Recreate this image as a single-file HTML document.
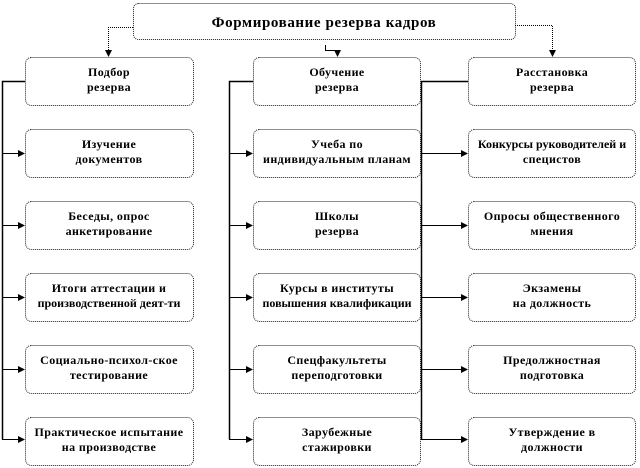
<!DOCTYPE html>
<html><head><meta charset="utf-8"><style>
html,body{margin:0;padding:0;background:#fff;width:640px;height:468px;overflow:hidden}
svg text{font-family:"Liberation Serif","DejaVu Serif",serif;font-weight:bold;font-size:12px;letter-spacing:0.4px;text-anchor:middle;fill:#000}
</style></head><body>
<svg width="640" height="468" viewBox="0 0 640 468" xmlns="http://www.w3.org/2000/svg">
<defs><marker id="a" markerWidth="7" markerHeight="7" refX="6" refY="3.5" orient="auto" markerUnits="userSpaceOnUse"><path d="M0,0 L7,3.5 L0,7 z" fill="#000"/></marker></defs>
<g fill="#fff" stroke="#222" stroke-width="1" stroke-dasharray="1,1">
<rect x="133.5" y="3.5" width="382" height="36" rx="5"/>
<rect x="25.5" y="57.5" width="168" height="48" rx="6"/>
<rect x="25.5" y="129.5" width="168" height="48" rx="6"/>
<rect x="25.5" y="201.5" width="168" height="48" rx="6"/>
<rect x="25.5" y="273.5" width="168" height="48" rx="6"/>
<rect x="25.5" y="345.5" width="168" height="48" rx="6"/>
<rect x="25.5" y="417.5" width="168" height="48" rx="6"/>
<rect x="253.5" y="57.5" width="167" height="48" rx="6"/>
<rect x="253.5" y="129.5" width="167" height="48" rx="6"/>
<rect x="253.5" y="201.5" width="167" height="48" rx="6"/>
<rect x="253.5" y="273.5" width="167" height="48" rx="6"/>
<rect x="253.5" y="345.5" width="167" height="48" rx="6"/>
<rect x="253.5" y="417.5" width="167" height="48" rx="6"/>
<rect x="468.5" y="57.5" width="167" height="48" rx="6"/>
<rect x="468.5" y="129.5" width="167" height="48" rx="6"/>
<rect x="468.5" y="201.5" width="167" height="48" rx="6"/>
<rect x="468.5" y="273.5" width="167" height="48" rx="6"/>
<rect x="468.5" y="345.5" width="167" height="48" rx="6"/>
<rect x="468.5" y="417.5" width="167" height="48" rx="6"/>
</g>
<g fill="none" stroke="#000" stroke-width="1">
<path d="M133,27.5 H108.5 V56" stroke-dasharray="1,1" marker-end="url(#a)"/>
<path d="M325.5,45 V50.5 H337.5 V56" marker-end="url(#a)"/>
<path d="M515,25.5 H552.5 V56" stroke-dasharray="1,1" marker-end="url(#a)"/>
<path d="M25,81.5 H2.5 V439.5" stroke-width="1.5"/>
<path d="M253,81.5 H229.5 V439.5" stroke-width="1.5"/>
<path d="M468,81.5 H421.5 V439.5" stroke-width="1.5"/>
<path d="M2,153.5 H24" marker-end="url(#a)"/><path d="M2,225.5 H24" marker-end="url(#a)"/><path d="M2,297.5 H24" marker-end="url(#a)"/><path d="M2,369.5 H24" marker-end="url(#a)"/><path d="M2,439.5 H24" marker-end="url(#a)"/>
<path d="M229,153.5 H252" marker-end="url(#a)"/><path d="M229,225.5 H252" marker-end="url(#a)"/><path d="M229,297.5 H252" marker-end="url(#a)"/><path d="M229,369.5 H252" marker-end="url(#a)"/><path d="M229,439.5 H252" marker-end="url(#a)"/>
<path d="M421,153.5 H467" marker-end="url(#a)"/><path d="M421,225.5 H467" marker-end="url(#a)"/><path d="M421,297.5 H467" marker-end="url(#a)"/><path d="M421,369.5 H467" marker-end="url(#a)"/><path d="M421,439.5 H467" marker-end="url(#a)"/>
</g>
<text x="324" y="27" style="font-size:15px;letter-spacing:0.6px">Формирование резерва кадров</text>
<text x="109" y="76">Подбор</text><text x="109" y="91">резерва</text>
<text x="109" y="148">Изучение</text><text x="109" y="163">документов</text>
<text x="109" y="220">Беседы,  опрос</text><text x="109" y="235">анкетирование</text>
<text x="109" y="292">Итоги аттестации  и</text><text x="109" y="307" style="letter-spacing:0">производственной деят-ти</text>
<text x="109" y="364">Социально-психол-ское</text><text x="109" y="379">тестирование</text>
<text x="109" y="436">Практическое  испытание</text><text x="109" y="451">на производстве</text>
<text x="337" y="76">Обучение</text><text x="337" y="91">резерва</text>
<text x="337" y="148">Учеба по</text><text x="337" y="163">индивидуальным  планам</text>
<text x="337" y="220">Школы</text><text x="337" y="235">резерва</text>
<text x="337" y="292">Курсы в институты</text><text x="337" y="307" style="letter-spacing:0">повышения квалификации</text>
<text x="337" y="364">Спецфакультеты</text><text x="337" y="379">переподготовки</text>
<text x="337" y="436">Зарубежные</text><text x="337" y="451">стажировки</text>
<text x="552" y="76">Расстановка</text><text x="552" y="91">резерва</text>
<text x="552" y="148" style="letter-spacing:0">Конкурсы руководителей и</text><text x="552" y="163">специстов</text>
<text x="552" y="220">Опросы общественного</text><text x="552" y="235">мнения</text>
<text x="552" y="292">Экзамены</text><text x="552" y="307">на должность</text>
<text x="552" y="364">Предолжностная</text><text x="552" y="379">подготовка</text>
<text x="552" y="436">Утверждение  в</text><text x="552" y="451">должности</text>
</svg>
</body></html>
